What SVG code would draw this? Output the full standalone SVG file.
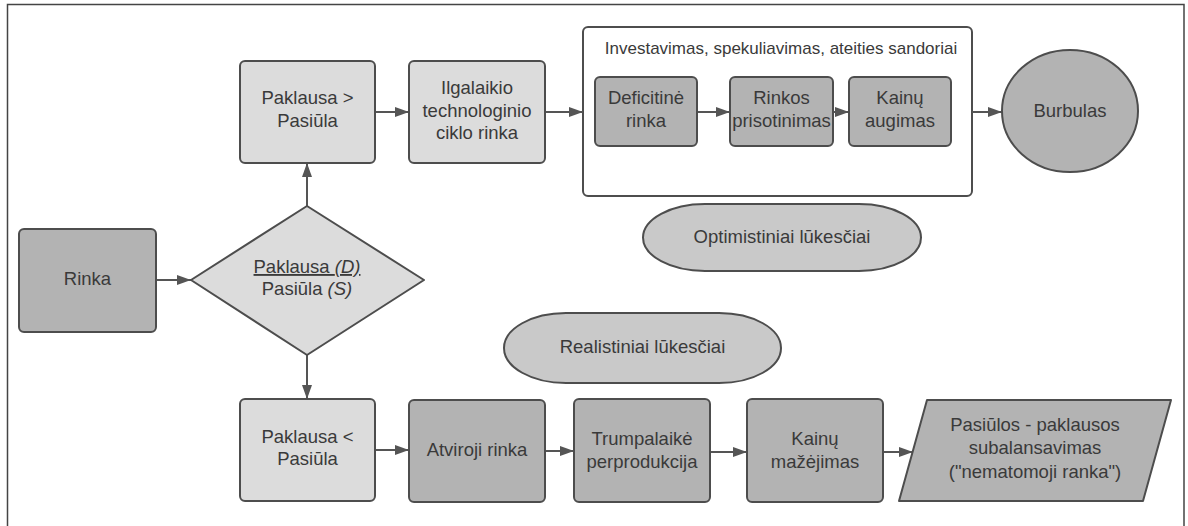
<svg xmlns="http://www.w3.org/2000/svg" width="1188" height="526" viewBox="0 0 1188 526">
<defs>
<marker id="ah" markerWidth="14" markerHeight="10" refX="14" refY="5" orient="auto" markerUnits="userSpaceOnUse">
<path d="M0,0 L14,5 L0,10 Z" fill="#555"/>
</marker>
<style>
.lt{fill:#dcdcdc;stroke:#4d4d4d;stroke-width:2}
.dk{fill:#b3b3b3;stroke:#4d4d4d;stroke-width:2}
.md{fill:#c9c9c9;stroke:#4d4d4d;stroke-width:2}
.ct{fill:#fff;stroke:#4d4d4d;stroke-width:2}
.t{font-family:"Liberation Sans",Arial,sans-serif;font-size:18.5px;fill:#3a3a3a;text-anchor:middle}
.tt{font-family:"Liberation Sans",Arial,sans-serif;font-size:17px;fill:#3a3a3a;text-anchor:middle}
.cn{stroke:#555;stroke-width:2;fill:none;marker-end:url(#ah)}
</style>
</defs>
<rect width="1188" height="526" fill="#fff"/>
<path d="M7.5,526 L7.5,4.5 L1184,4.5 L1184,526" fill="none" stroke="#444" stroke-width="1.5"/>

<g id="container">
<rect class="ct" x="583" y="27" width="389" height="169" rx="5"/>
<text class="tt" x="781" y="54">Investavimas, spekuliavimas, ateities sandoriai</text>
</g>

<g id="connectors">
<line class="cn" x1="156" y1="280" x2="191" y2="280"/>
<line class="cn" x1="307" y1="206" x2="307" y2="163"/>
<line class="cn" x1="307" y1="355" x2="307" y2="399"/>
<line class="cn" x1="375" y1="112" x2="409" y2="112"/>
<line class="cn" x1="545" y1="112" x2="583" y2="112"/>
<line class="cn" x1="697" y1="112" x2="730" y2="112"/>
<line class="cn" x1="833" y1="112" x2="849" y2="112"/>
<line class="cn" x1="972" y1="112" x2="1002" y2="112"/>
<line class="cn" x1="375" y1="450" x2="409" y2="450"/>
<line class="cn" x1="545" y1="451" x2="574" y2="451"/>
<line class="cn" x1="710" y1="452" x2="747" y2="452"/>
<line class="cn" x1="883" y1="452" x2="913" y2="452"/>
</g>

<g id="paklausa-daugiau">
<rect class="lt" x="240" y="61" width="135" height="102" rx="5"/>
<text class="t" x="307.5" y="104">Paklausa &gt;</text>
<text class="t" x="307.5" y="127">Pasiūla</text>
</g>
<g id="ilgalaikio">
<rect class="lt" x="409" y="61" width="136" height="102" rx="5"/>
<text class="t" x="477" y="94">Ilgalaikio</text>
<text class="t" x="477" y="117">technologinio</text>
<text class="t" x="477" y="139">ciklo rinka</text>
</g>
<g id="deficitine">
<rect class="dk" x="595" y="77" width="102" height="69" rx="5"/>
<text class="t" x="646" y="104">Deficitinė</text>
<text class="t" x="646" y="127">rinka</text>
</g>
<g id="rinkos-prisotinimas">
<rect class="dk" x="730" y="77" width="103" height="69" rx="5"/>
<text class="t" x="781.5" y="104">Rinkos</text>
<text class="t" x="781.5" y="127">prisotinimas</text>
</g>
<g id="kainu-augimas">
<rect class="dk" x="849" y="77" width="102" height="69" rx="5"/>
<text class="t" x="900" y="104">Kainų</text>
<text class="t" x="900" y="127">augimas</text>
</g>
<g id="burbulas">
<ellipse class="dk" cx="1070" cy="111" rx="68" ry="61"/>
<text class="t" x="1070" y="117">Burbulas</text>
</g>
<g id="optimistiniai">
<rect class="md" x="643" y="204" width="278" height="67" rx="62" ry="33.5"/>
<text class="t" x="782" y="243">Optimistiniai lūkesčiai</text>
</g>
<g id="rinka">
<rect class="dk" x="19" y="229" width="137" height="103" rx="5"/>
<text class="t" x="87.5" y="285">Rinka</text>
</g>
<g id="sprendimas">
<polygon class="lt" points="191,280 307,206 424,280 307,355" stroke-linejoin="round"/>
<text class="t" x="307" y="273" text-decoration="underline">Paklausa <tspan font-style="italic">(D)</tspan></text>
<text class="t" x="307" y="295">Pasiūla <tspan font-style="italic">(S)</tspan></text>
</g>
<g id="realistiniai">
<rect class="md" x="504" y="313" width="277" height="70" rx="62" ry="35"/>
<text class="t" x="642.5" y="353">Realistiniai lūkesčiai</text>
</g>
<g id="paklausa-maziau">
<rect class="lt" x="240" y="399" width="135" height="102" rx="5"/>
<text class="t" x="307.5" y="443">Paklausa &lt;</text>
<text class="t" x="307.5" y="465">Pasiūla</text>
</g>
<g id="atviroji">
<rect class="dk" x="409" y="400" width="136" height="102" rx="5"/>
<text class="t" x="477" y="456">Atviroji rinka</text>
</g>
<g id="trumpalaike">
<rect class="dk" x="574" y="399" width="136" height="103" rx="5"/>
<text class="t" x="642" y="445">Trumpalaikė</text>
<text class="t" x="642" y="468">perprodukcija</text>
</g>
<g id="kainu-mazejimas">
<rect class="dk" x="747" y="399" width="136" height="103" rx="5"/>
<text class="t" x="815" y="445">Kainų</text>
<text class="t" x="815" y="468">mažėjimas</text>
</g>
<g id="subalansavimas">
<polygon class="dk" points="927,400 1171,400 1143,501 899,501" stroke-linejoin="round"/>
<text class="t" x="1035" y="431">Pasiūlos - paklausos</text>
<text class="t" x="1035" y="454">subalansavimas</text>
<text class="t" x="1035" y="478">("nematomoji ranka")</text>
</g>
</svg>
